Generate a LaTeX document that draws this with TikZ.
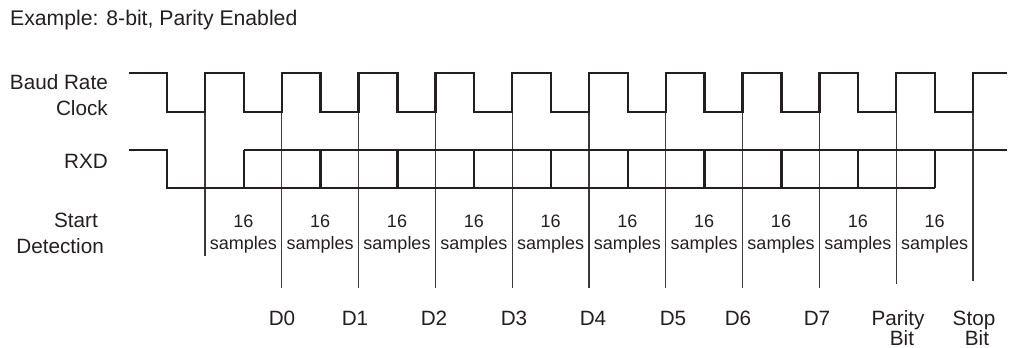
\documentclass[tikz,border=0pt]{standalone}
\usepackage{fontspec}
\setmainfont{Liberation Sans}
\definecolor{inkblack}{HTML}{231F20}
\definecolor{tickgray}{HTML}{3A3A3A}

\begin{document}
\begin{tikzpicture}[
  x=1pt, y=-1pt,
  wave/.style={line width=2.4pt, inkblack, line join=miter},
  sampleline/.style={line width=1.1pt, tickgray},
  sig/.style={font=\fontsize{20.7}{26}\selectfont, text=inkblack, inner sep=0pt},
  smp/.style={font=\fontsize{18}{22}\selectfont, text=inkblack, inner sep=0pt, anchor=base},
]

\useasboundingbox (0,0) rectangle (1010,348);

% Title
\node[sig, font=\fontsize{21.2}{26}\selectfont, anchor=base west] (title) at (10,25)
  {Example: 8-bit, Parity Enabled};

% === Signal names ===
\node[sig, anchor=base east] (baud) at (108,89) {Baud Rate};
\node[sig, anchor=base east] (clock) at (108,115) {Clock};
\node[sig, anchor=base east] (rxd) at (108,168) {RXD};
\node[sig, anchor=base east] (start) at (98,227) {Start};
\node[sig, anchor=base east] (detect) at (104,253) {Detection};

% === Sample lines at rising clock edges ===
\foreach \k/\yend in {0/256, 1/288, 2/288, 3/288, 4/288, 5/288, 6/288, 7/288, 8/288, 9/284, 10/281}
  \draw[sampleline] ({205+76.8*\k},112) -- ({205+76.8*\k},\yend);

% 16 samples between each pair of sample lines
\foreach \k in {0,...,9} {
  \node[smp] (cnt\k) at ({243.4+76.8*\k},227) {16};
  \node[smp] (samp\k) at ({243.4+76.8*\k},249) {samples};
}

% === Baud rate clock ===
\draw[wave] (129,73)
  foreach \k in {0,...,10} {
    -- ({167+76.8*\k},73) -- ({167+76.8*\k},112)
    -- ({205+76.8*\k},112) -- ({205+76.8*\k},73)
  } -- (1007,73);

% === RXD ===
\draw[wave] (129,150) -- (167,150) -- (167,188) -- (935,188);
\draw[wave] (243.8,150) -- (1007,150);
\foreach \k in {1,...,10}
  \draw[wave] ({167+76.8*\k},150) -- ({167+76.8*\k},188);

% === Bit names ===
\foreach \bitname/\x in {D0/282, D1/355, D2/434, D3/514, D4/593, D5/673, D6/738, D7/817}
  \node[sig, anchor=base] (\bitname) at (\x,325) {\bitname};
\node[sig, anchor=base] (parity) at (898,325) {Parity};
\node[sig, anchor=base] (paritybit) at (902,345) {Bit};
\node[sig, anchor=base] (stop) at (974,325) {Stop};
\node[sig, anchor=base] (stopbit) at (977,345) {Bit};

\end{tikzpicture}
\end{document}
